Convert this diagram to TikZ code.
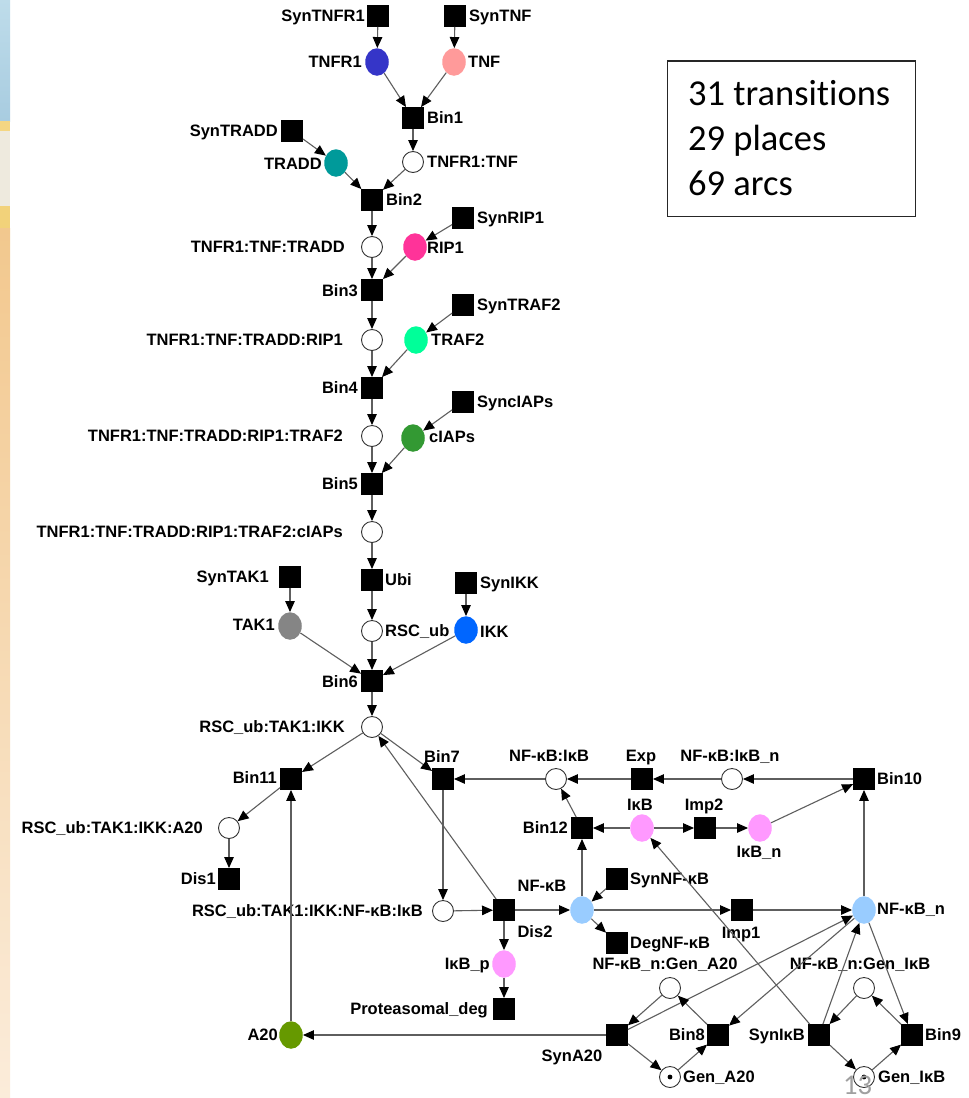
\documentclass[tikz,border=0pt]{standalone}
\usepackage{fontspec}
\setmainfont{Liberation Sans}
\newfontfamily\slidefont[Ligatures=NoCommon]{Carlito}
\usetikzlibrary{arrows.meta,shapes.geometric}

\definecolor{cTNFR}{HTML}{3535C8}
\definecolor{cTNF}{HTML}{FF9A9A}
\definecolor{cTRADD}{HTML}{009A9A}
\definecolor{cRIP}{HTML}{FF3399}
\definecolor{cTRAF}{HTML}{00FF99}
\definecolor{cIAP}{HTML}{339933}
\definecolor{cTAK}{HTML}{858585}
\definecolor{cIKK}{HTML}{0066FF}
\definecolor{cIkB}{HTML}{FF99FF}
\definecolor{cNF}{HTML}{99CCFF}
\definecolor{cA20}{HTML}{669900}
\definecolor{arcgray}{HTML}{5E5E5E}
\definecolor{edgeblueA}{HTML}{BEDCEA}
\definecolor{edgeblueB}{HTML}{A8CCE0}
\definecolor{edgegold}{HTML}{F4D682}
\definecolor{edgegoldB}{HTML}{F2D27A}
\definecolor{edgepale}{HTML}{EEEADE}
\definecolor{edgeorA}{HTML}{F2C88E}
\definecolor{edgeorB}{HTML}{FBECDA}
\definecolor{pagegray}{HTML}{A0A0A0}

\begin{document}
\begin{tikzpicture}[x=1pt,y=-1pt,
  trans/.style={rectangle, fill=black, minimum size=21.5pt, inner sep=0pt},
  place/.style={circle, draw=black!80, line width=0.9pt, fill=white, minimum size=21pt, inner sep=0pt},
  cplace/.style={ellipse, fill=#1, minimum width=23.5pt, minimum height=27.5pt, inner sep=0pt},
  token/.style={path picture={\fill[black] (path picture bounding box.center) circle (2.4pt);}},
  lbl/.style={font=\fontsize{16.5}{18}\selectfont\bfseries, inner sep=0pt, text height=11.8pt, text depth=0pt},
  stat/.style={font=\slidefont\fontsize{36.5}{45}\selectfont, inner sep=0pt},
  arc/.style={draw=arcgray, line width=1.1pt, -{Triangle[length=11pt,width=9.5pt,color=black]}},
]
\useasboundingbox (0,0) rectangle (969,1098);
\fill[white] (0,0) rectangle (969,1098);

% slide edge decoration
\shade[top color=edgeblueA, bottom color=edgeblueB] (0,0) rectangle (10,121);
\fill[edgegold] (0,121) rectangle (10,131);
\fill[edgepale] (0,131) rectangle (10,206);
\fill[edgegoldB] (0,206) rectangle (10,228);
\shade[top color=edgeorA, bottom color=edgeorB] (0,228) rectangle (10,1098);

% transitions
\node[trans] (SynTNFR1) at (378,16) {};
\node[trans] (SynTNF) at (455,16) {};
\node[trans] (Bin1) at (413,118) {};
\node[trans] (SynTRADD) at (292,131) {};
\node[trans] (Bin2) at (372,200) {};
\node[trans] (SynRIP1) at (463,218) {};
\node[trans] (Bin3) at (372,290) {};
\node[trans] (SynTRAF2) at (463,305) {};
\node[trans] (Bin4) at (372,388) {};
\node[trans] (SyncIAPs) at (463,402) {};
\node[trans] (Bin5) at (372,484) {};
\node[trans] (Ubi) at (372,580) {};
\node[trans] (SynTAK1) at (290,577) {};
\node[trans] (SynIKK) at (466,583) {};
\node[trans] (Bin6) at (372,681) {};
\node[trans] (Bin7) at (443,779) {};
\node[trans] (Bin11) at (291,779) {};
\node[trans] (Exp) at (642,779) {};
\node[trans] (Bin10) at (864,779) {};
\node[trans] (Bin12) at (582,828) {};
\node[trans] (Imp2) at (705,828) {};
\node[trans] (SynNFkB) at (617,879) {};
\node[trans] (Dis1) at (229,879) {};
\node[trans] (Dis2) at (504,910) {};
\node[trans] (Imp1) at (742,910) {};
\node[trans] (DegNFkB) at (617,943) {};
\node[trans] (ProtDeg) at (504,1009) {};
\node[trans] (SynA20) at (617,1035) {};
\node[trans] (Bin8) at (718,1035) {};
\node[trans] (SynIkB) at (819,1035) {};
\node[trans] (Bin9) at (912,1035) {};

% places
\node[cplace=cTNFR] (TNFR1) at (377,62) {};
\node[cplace=cTNF] (TNF) at (454,62) {};
\node[place] (C2) at (413,162) {};
\node[cplace=cTRADD] (TRADD) at (336,163) {};
\node[place] (C3) at (372,247) {};
\node[cplace=cRIP] (RIP1) at (415,247) {};
\node[place] (C4) at (372,340) {};
\node[cplace=cTRAF] (TRAF2) at (416,340) {};
\node[place] (C5) at (372,436) {};
\node[cplace=cIAP] (cIAPs) at (413,438) {};
\node[place] (C6) at (372,532) {};
\node[cplace=cTAK] (TAK1) at (290,626) {};
\node[place] (RSCub) at (372,631) {};
\node[cplace=cIKK] (IKK) at (466,630) {};
\node[place] (RTI) at (372,727) {};
\node[place] (RTIA) at (229,828) {};
\node[place] (NFkBIkB) at (556,779) {};
\node[place] (NFkBIkBn) at (732,779) {};
\node[cplace=cIkB] (IkB) at (642,828) {};
\node[cplace=cIkB] (IkBn) at (760,828) {};
\node[cplace=cNF] (NFkB) at (582,910) {};
\node[place] (RTINI) at (443,911) {};
\node[cplace=cNF] (NFkBn) at (864,910) {};
\node[cplace=cIkB] (IkBp) at (504,964) {};
\node[place] (NGA) at (670,988) {};
\node[place] (NGI) at (864,988) {};
\node[cplace=cA20] (A20) at (291,1035) {};
\node[place, token] (GenA20) at (670,1077) {};
\node[place, token] (GenIkB) at (864,1077) {};

% labels
\node[lbl, anchor=east] at (365,16) {SynTNFR1};
\node[lbl, anchor=west] at (469,16) {SynTNF};
\node[lbl, anchor=east] at (362,62) {TNFR1};
\node[lbl, anchor=west] at (468,62) {TNF};
\node[lbl, anchor=west] at (427,118) {Bin1};
\node[lbl, anchor=east] at (278,131) {SynTRADD};
\node[lbl, anchor=west] at (427,162) {TNFR1:TNF};
\node[lbl, anchor=east] at (322,164) {TRADD};
\node[lbl, anchor=west] at (386,200) {Bin2};
\node[lbl, anchor=west] at (477,218) {SynRIP1};
\node[lbl, anchor=east] at (345,247) {TNFR1:TNF:TRADD};
\node[lbl, anchor=west] at (427,248) {RIP1};
\node[lbl, anchor=east] at (358,291) {Bin3};
\node[lbl, anchor=west] at (477,305) {SynTRAF2};
\node[lbl, anchor=east] at (343,340) {TNFR1:TNF:TRADD:RIP1};
\node[lbl, anchor=west] at (431,340) {TRAF2};
\node[lbl, anchor=east] at (358,388) {Bin4};
\node[lbl, anchor=west] at (477,402) {SyncIAPs};
\node[lbl, anchor=east] at (343,436) {TNFR1:TNF:TRADD:RIP1:TRAF2};
\node[lbl, anchor=west] at (429,437) {cIAPs};
\node[lbl, anchor=east] at (358,484) {Bin5};
\node[lbl, anchor=east] at (343,532) {TNFR1:TNF:TRADD:RIP1:TRAF2:cIAPs};
\node[lbl, anchor=east] at (269,577) {SynTAK1};
\node[lbl, anchor=west] at (385,580) {Ubi};
\node[lbl, anchor=west] at (480,583) {SynIKK};
\node[lbl, anchor=east] at (275,625) {TAK1};
\node[lbl, anchor=west] at (385,631) {RSC\_ub};
\node[lbl, anchor=west] at (480,632) {IKK};
\node[lbl, anchor=east] at (358,682) {Bin6};
\node[lbl, anchor=east] at (345,727) {RSC\_ub:TAK1:IKK};
\node[lbl] at (442,757) {Bin7};
\node[lbl, anchor=east] at (277,778) {Bin11};
\node[lbl] at (549,756) {NF-κB:IκB};
\node[lbl] at (641,756) {Exp};
\node[lbl] at (730,756) {NF-κB:IκB\_n};
\node[lbl, anchor=west] at (877,779) {Bin10};
\node[lbl] at (640,805) {IκB};
\node[lbl] at (704,805) {Imp2};
\node[lbl, anchor=east] at (568,828) {Bin12};
\node[lbl] at (759,852) {IκB\_n};
\node[lbl, anchor=east] at (203,828) {RSC\_ub:TAK1:IKK:A20};
\node[lbl, anchor=west] at (630,879) {SynNF-κB};
\node[lbl, anchor=east] at (216,879) {Dis1};
\node[lbl] at (542,886) {NF-κB};
\node[lbl, anchor=east] at (423,911) {RSC\_ub:TAK1:IKK:NF-κB:IκB};
\node[lbl, anchor=west] at (877,909) {NF-κB\_n};
\node[lbl] at (535,932) {Dis2};
\node[lbl] at (741,933) {Imp1};
\node[lbl, anchor=west] at (630,943) {DegNF-κB};
\node[lbl, anchor=east] at (490,964) {IκB\_p};
\node[lbl] at (665,964) {NF-κB\_n:Gen\_A20};
\node[lbl] at (860,964) {NF-κB\_n:Gen\_IκB};
\node[lbl, anchor=east] at (488,1009) {Proteasomal\_deg};
\node[lbl, anchor=east] at (278,1035) {A20};
\node[lbl, anchor=east] at (705,1035) {Bin8};
\node[lbl, anchor=east] at (805,1035) {SynIκB};
\node[lbl, anchor=west] at (925,1035) {Bin9};
\node[lbl] at (572,1056) {SynA20};
\node[lbl, anchor=west] at (683,1077) {Gen\_A20};
\node[lbl, anchor=west] at (878,1077) {Gen\_IκB};

% arcs: receptor complex assembly
\draw[arc] (SynTNFR1) -- (TNFR1);
\draw[arc] (SynTNF) -- (TNF);
\draw[arc] (TNFR1) -- (Bin1);
\draw[arc] (TNF) -- (Bin1);
\draw[arc] (Bin1) -- (C2);
\draw[arc] (SynTRADD) -- (TRADD);
\draw[arc] (TRADD) -- (Bin2);
\draw[arc] (C2) -- (Bin2);
\draw[arc] (Bin2) -- (C3);
\draw[arc] (SynRIP1) -- (RIP1);
\draw[arc] (C3) -- (Bin3);
\draw[arc] (RIP1) -- (Bin3);
\draw[arc] (Bin3) -- (C4);
\draw[arc] (SynTRAF2) -- (TRAF2);
\draw[arc] (C4) -- (Bin4);
\draw[arc] (TRAF2) -- (Bin4);
\draw[arc] (Bin4) -- (C5);
\draw[arc] (SyncIAPs) -- (cIAPs);
\draw[arc] (C5) -- (Bin5);
\draw[arc] (cIAPs) -- (Bin5);
\draw[arc] (Bin5) -- (C6);
\draw[arc] (C6) -- (Ubi);
\draw[arc] (Ubi) -- (RSCub);
\draw[arc] (SynTAK1) -- (TAK1);
\draw[arc] (SynIKK) -- (IKK);
\draw[arc] (TAK1) -- (Bin6);
\draw[arc] (RSCub) -- (Bin6);
\draw[arc] (IKK) -- (Bin6);
\draw[arc] (Bin6) -- (RTI);
% arcs: IKK complex, A20 feedback
\draw[arc] (RTI) -- (Bin11);
\draw[arc] (RTI) -- (Bin7);
\draw[arc] (Dis2) -- (RTI);
\draw[arc] (A20) -- (Bin11);
\draw[arc] (Bin11) -- (RTIA);
\draw[arc] (RTIA) -- (Dis1);
\draw[arc] (Bin7) -- (RTINI);
\draw[arc] (RTINI) -- (Dis2);
\draw[arc] (Dis2) -- (NFkB);
\draw[arc] (Dis2) -- (IkBp);
\draw[arc] (IkBp) -- (ProtDeg);
% arcs: NF-kB shuttling
\draw[arc] (NFkBIkB) -- (Bin7);
\draw[arc] (Exp) -- (NFkBIkB);
\draw[arc] (NFkBIkBn) -- (Exp);
\draw[arc] (Bin10) -- (NFkBIkBn);
\draw[arc] (Bin12) -- (NFkBIkB);
\draw[arc] (IkB) -- (Bin12);
\draw[arc] (NFkB) -- (Bin12);
\draw[arc] (IkB) -- (Imp2);
\draw[arc] (Imp2) -- (IkBn);
\draw[arc] (IkBn) -- (Bin10);
\draw[arc] (NFkBn) -- (Bin10);
\draw[arc] (SynNFkB) -- (NFkB);
\draw[arc] (NFkB) -- (DegNFkB);
\draw[arc] (NFkB) -- (Imp1);
\draw[arc] (Imp1) -- (NFkBn);
% arcs: gene expression
\draw[arc] (SynA20) -- (A20);
\draw[arc] (SynA20) -- (NFkBn);
\draw[arc] (NGA) -- (SynA20);
\draw[arc] (SynA20) -- (GenA20);
\draw[arc] (GenA20) -- (Bin8);
\draw[arc] (NFkBn) -- (Bin8);
\draw[arc] (Bin8) -- (NGA);
\draw[arc] (SynIkB) -- (IkB);
\draw[arc] (SynIkB) -- (NFkBn);
\draw[arc] (NGI) -- (SynIkB);
\draw[arc] (SynIkB) -- (GenIkB);
\draw[arc] (GenIkB) -- (Bin9);
\draw[arc] (NFkBn) -- (Bin9);
\draw[arc] (Bin9) -- (NGI);

% summary box
\node[draw=black!85, line width=1.3pt, minimum width=248pt, minimum height=155.5pt, inner sep=0pt] (stats) at (791.8,138.8) {};
\node[stat, anchor=base west] (st1) at (688,105.7) {31 transitions};
\node[stat, anchor=base west] (st2) at (688,150.5) {29 places};
\node[stat, anchor=base west] (st3) at (688,195.5) {69 arcs};

% slide number
\node[font=\slidefont\fontsize{28.6}{30}\selectfont, text=pagegray, inner sep=0pt, anchor=base west] (pageno) at (843,1094) {13};
\end{tikzpicture}
\end{document}
